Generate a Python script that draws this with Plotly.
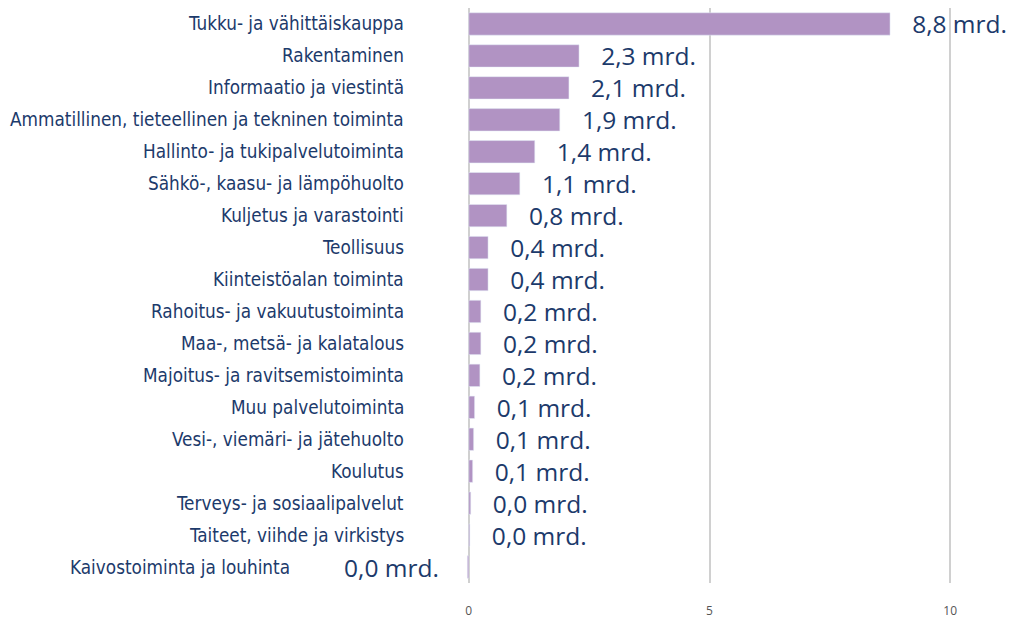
import plotly.graph_objects as go

categories = [
    "Tukku- ja vähittäiskauppa",
    "Rakentaminen",
    "Informaatio ja viestintä",
    "Ammatillinen, tieteellinen ja tekninen toiminta",
    "Hallinto- ja tukipalvelutoiminta",
    "Sähkö-, kaasu- ja lämpöhuolto",
    "Kuljetus ja varastointi",
    "Teollisuus",
    "Kiinteistöalan toiminta",
    "Rahoitus- ja vakuutustoiminta",
    "Maa-, metsä- ja kalatalous",
    "Majoitus- ja ravitsemistoiminta",
    "Muu palvelutoiminta",
    "Vesi-, viemäri- ja jätehuolto",
    "Koulutus",
    "Terveys- ja sosiaalipalvelut",
    "Taiteet, viihde ja virkistys",
    "Kaivostoiminta ja louhinta",
]
values = [8.75, 2.29, 2.08, 1.89, 1.37, 1.06, 0.79, 0.40, 0.40, 0.25, 0.25, 0.23,
          0.12, 0.10, 0.08, 0.04, 0.02, -0.03]
labels = ["8,8 mrd.", "2,3 mrd.", "2,1 mrd.", "1,9 mrd.", "1,4 mrd.", "1,1 mrd.",
          "0,8 mrd.", "0,4 mrd.", "0,4 mrd.", "0,2 mrd.", "0,2 mrd.", "0,2 mrd.",
          "0,1 mrd.", "0,1 mrd.", "0,1 mrd.", "0,0 mrd.", "0,0 mrd.", "0,0 mrd."]
tick_vals = [0, 5, 10]
tick_text = ["0", "5", "10"]

TEXT = "#1c3a6b"
PAD = "\u00a0\u00a0\u00a0"
templates = [(PAD + "%{text}") if v >= 0 else ("%{text}" + PAD + "\u00a0") for v in values]

fig = go.Figure(go.Bar(
    x=values, y=categories, orientation="h",
    marker=dict(color="#b193c3"),
    width=0.7,
    text=labels, texttemplate=templates,
    textposition="outside", cliponaxis=False, constraintext="none",
    textfont=dict(family="Open Sans", size=24.5, color=TEXT),
    hoverinfo="skip",
))

for c, v in zip(categories, values):
    fig.add_annotation(
        x=0, y=c, xref="x", yref="y", text=c, showarrow=False,
        xanchor="right", xshift=(-63 if v >= 0 else -177),
        font=dict(family="DejaVu Sans Condensed", size=18.8, color=TEXT),
    )

fig.update_layout(
    width=1015, height=619,
    margin=dict(l=456, r=15, t=0, b=44),
    paper_bgcolor="white", plot_bgcolor="white",
    showlegend=False,
    bargap=0.3,
)
fig.update_xaxes(
    range=[-0.1, 11.2], tickvals=tick_vals, ticktext=tick_text,
    showgrid=True, gridcolor="#d0d0d0", gridwidth=1.5, zeroline=False,
    tickfont=dict(family="Open Sans", size=12, color="#555555"),
    ticklabelstandoff=19,
)
fig.update_yaxes(
    categoryorder="array", categoryarray=categories[::-1],
    showticklabels=False, showgrid=False,
)

fig.write_html("out.html")
